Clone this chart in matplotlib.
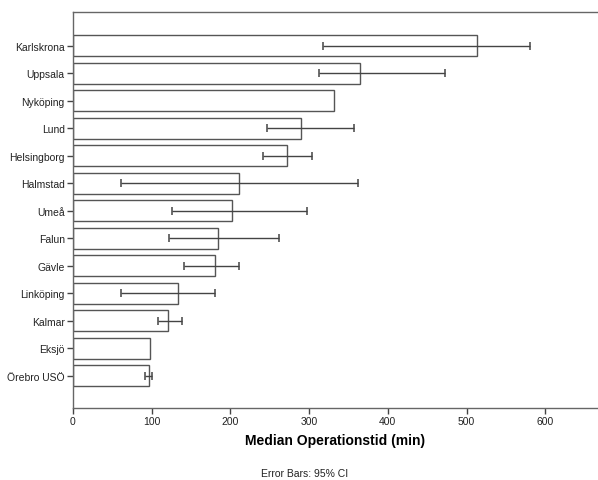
import matplotlib
matplotlib.use("Agg")
import matplotlib.pyplot as plt
import numpy as np

plt.rcParams['font.family'] = ['Liberation Sans', 'DejaVu Sans']

hospitals = ["Karlskrona", "Uppsala", "Nyköping", "Lund", "Helsingborg", "Halmstad",
             "Umeå", "Falun", "Gävle", "Linköping", "Kalmar", "Eksjö", "Örebro USÖ"]
median_time = [513, 365, 332, 290, 272, 211, 202, 184, 181, 133, 121, 98, 96]
ci_low = [317, 312, None, 246, 241, 61, 126, 122, 141, 61, 108, None, 91]
ci_high = [580, 473, None, 357, 304, 362, 297, 262, 211, 181, 138, None, 101]
x_ticks = [0, 100, 200, 300, 400, 500, 600]

edge = "#555555"
fig = plt.figure(figsize=(5.98, 4.81), dpi=100)
ax = fig.add_axes([73 / 598, 72 / 481, 1 - 73 / 598, (409 - 13) / 481])

y = np.arange(len(hospitals))
ax.barh(y, median_time, height=0.76, color="white", edgecolor=edge, linewidth=1.0)

for yi, lo, hi, m in zip(y, ci_low, ci_high, median_time):
    if lo is None:
        continue
    ax.errorbar(m, yi, xerr=[[m - lo], [hi - m]], fmt="none", ecolor="#444444",
                elinewidth=1.0, capsize=3, capthick=1.1)

ax.set_yticks(y)
ax.set_yticklabels(hospitals, fontsize=7.5, color="#222222")
ax.set_ylim(len(hospitals) - 1 + 1.17, -1.22)
ax.set_xlim(0, 667)
ax.set_xticks(x_ticks)
ax.set_xticklabels([str(t) for t in x_ticks], fontsize=7.5, color="#222222")
ax.tick_params(axis="both", direction="out", length=4, width=1.0, color="#444444", pad=2)

ax.spines["right"].set_visible(False)
for s in ["left", "bottom", "top"]:
    ax.spines[s].set_color("#666666")
    ax.spines[s].set_linewidth(1.0)

ax.set_xlabel("Median Operationstid (min)", fontsize=10, fontweight="bold", labelpad=5)
fig.text(305 / 598, 1 - 474 / 481, "Error Bars: 95% CI", fontsize=7.5, ha="center",
         va="center", color="#222222")

fig.savefig("out.png", dpi=100)
